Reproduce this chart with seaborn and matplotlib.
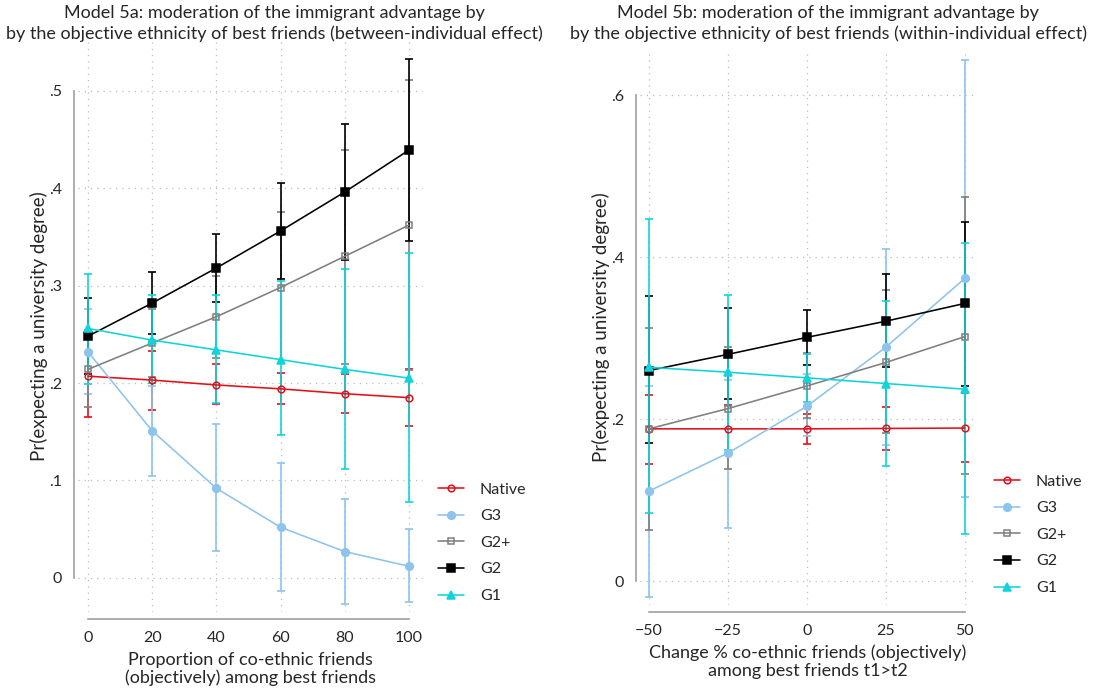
import matplotlib
matplotlib.use("Agg")
import matplotlib.pyplot as plt
import numpy as np
import pandas as pd
import seaborn as sns

# ---- data ----
groups = ["Native", "G3", "G2+", "G2", "G1"]

# Model 5a (between-individual)
x_a = [0, 20, 40, 60, 80, 100]
est_a = {
    "Native": [0.207, 0.203, 0.198, 0.194, 0.189, 0.185],
    "G3":     [0.232, 0.151, 0.092, 0.052, 0.027, 0.012],
    "G2+":    [0.214, 0.241, 0.268, 0.298, 0.330, 0.362],
    "G2":     [0.248, 0.282, 0.318, 0.356, 0.396, 0.439],
    "G1":     [0.256, 0.244, 0.234, 0.224, 0.214, 0.205],
}
lo_a = {
    "Native": [0.165, 0.172, 0.178, 0.178, 0.169, 0.156],
    "G3":     [0.189, 0.105, 0.028, -0.013, -0.027, -0.025],
    "G2+":    [0.175, 0.206, 0.226, 0.221, 0.220, 0.213],
    "G2":     [0.209, 0.250, 0.283, 0.307, 0.326, 0.346],
    "G1":     [0.199, 0.200, 0.179, 0.147, 0.112, 0.078],
}
hi_a = {
    "Native": [0.250, 0.233, 0.219, 0.210, 0.209, 0.214],
    "G3":     [0.276, 0.197, 0.158, 0.118, 0.081, 0.050],
    "G2+":    [0.254, 0.276, 0.310, 0.375, 0.439, 0.511],
    "G2":     [0.287, 0.314, 0.353, 0.405, 0.466, 0.533],
    "G1":     [0.312, 0.290, 0.290, 0.305, 0.317, 0.333],
}

# Model 5b (within-individual)
x_b = [-50, -25, 0, 25, 50]
est_b = {
    "Native": [0.188, 0.188, 0.188, 0.1885, 0.189],
    "G3":     [0.111, 0.158, 0.216, 0.289, 0.374],
    "G2+":    [0.188, 0.213, 0.241, 0.270, 0.302],
    "G2":     [0.260, 0.280, 0.301, 0.321, 0.343],
    "G1":     [0.264, 0.258, 0.251, 0.244, 0.237],
}
lo_b = {
    "Native": [0.144, 0.157, 0.169, 0.162, 0.147],
    "G3":     [-0.020, 0.065, 0.179, 0.168, 0.104],
    "G2+":    [0.063, 0.139, 0.202, 0.183, 0.132],
    "G2":     [0.170, 0.225, 0.267, 0.265, 0.241],
    "G1":     [0.084, 0.162, 0.221, 0.142, 0.058],
}
hi_b = {
    "Native": [0.230, 0.218, 0.206, 0.215, 0.232],
    "G3":     [0.241, 0.248, 0.256, 0.410, 0.644],
    "G2+":    [0.313, 0.289, 0.282, 0.359, 0.474],
    "G2":     [0.352, 0.337, 0.335, 0.379, 0.444],
    "G1":     [0.447, 0.353, 0.281, 0.346, 0.417],
}

colors = {"Native": "#e3101a", "G3": "#8dc4ec", "G2+": "#7f7f7f",
          "G2": "#000000", "G1": "#10d4da"}
markers = {"Native": "o", "G3": "o", "G2+": "s", "G2": "s", "G1": "^"}
msize = {"Native": 4.8, "G3": 5.5, "G2+": 4.5, "G2": 5.8, "G1": 5.5}
mface = {"Native": "none", "G3": None, "G2+": "none", "G2": None, "G1": None}


def tidy(xs, est, lo, hi):
    rows = []
    for g in groups:
        for i, xv in enumerate(xs):
            rows.append((g, xv, est[g][i], lo[g][i], hi[g][i]))
    return pd.DataFrame(rows, columns=["group", "x", "est", "lo", "hi"])


df_a = tidy(x_a, est_a, lo_a, hi_a)
df_b = tidy(x_b, est_b, lo_b, hi_b)

sns.set_style("white")
plt.rcParams["font.family"] = ["Lato", "DejaVu Sans"]

fig = plt.figure(figsize=(10.97, 6.95), dpi=100)
W, H = 1097, 695
ax1 = fig.add_axes([78 / W, 1 - 612 / H, 345 / W, 572 / H])
ax2 = fig.add_axes([640 / W, 1 - 605 / H, 336 / W, 555 / H])


def draw(ax, df, xticks, yticks, ylabs):
    # confidence intervals first, then the lines
    for g in groups:
        d = df[df.group == g]
        ax.errorbar(d.x, d.est, yerr=[d.est - d.lo, d.hi - d.est], fmt="none",
                    ecolor=colors[g], elinewidth=1.2, capsize=2.9, capthick=1.2)
    for g in groups:
        d = df[df.group == g]
        kw = dict(mfc=mface[g]) if mface[g] else {}
        sns.lineplot(data=d, x="x", y="est", ax=ax, color=colors[g],
                     marker=markers[g], markersize=msize[g], linewidth=1.15,
                     markeredgecolor=colors[g], markeredgewidth=1.1,
                     label=g, **kw)
    ax.set_xticks(xticks)
    ax.set_yticks(yticks)
    ax.set_yticklabels(ylabs)
    ax.grid(True, linestyle=(0, (1, 4)), color="#bdbdbd", linewidth=0.9)
    for s in ["top", "right"]:
        ax.spines[s].set_visible(False)
    ax.spines["left"].set_position(("outward", 3))
    ax.spines["bottom"].set_position(("outward", 5))
    ax.spines["left"].set_bounds(yticks[0], yticks[-1])
    ax.spines["bottom"].set_bounds(xticks[0], xticks[-1])
    for s in ["left", "bottom"]:
        ax.spines[s].set_color("#a0a0a0")
        ax.spines[s].set_linewidth(1.2)
    ax.tick_params(axis="both", direction="out", length=7, width=1.2,
                   color="#a0a0a0", labelsize=11.5, pad=1.5)
    ax.set_ylabel("Pr(expecting a university degree)", fontsize=13.5, labelpad=0.5)
    ax.get_legend().remove()


draw(ax1, df_a, x_a, [0, 0.1, 0.2, 0.3, 0.4, 0.5], ["0", ".1", ".2", ".3", ".4", ".5"])
ax1.set_xlim(-3.1, 104.4)
ax1.set_ylim(-0.035, 0.552)
ax1.set_xlabel("Proportion of co-ethnic friends\n(objectively) among best friends",
               fontsize=13, labelpad=5, linespacing=1.15)

draw(ax2, df_b, x_b, [0, 0.2, 0.4, 0.6], ["0", ".2", ".4", ".6"])
ax2.set_xlim(-52.8, 53.5)
ax2.set_ylim(-0.0296, 0.656)
ax2.set_xlabel("Change % co-ethnic friends (objectively)\namong best friends t1>t2",
               fontsize=13, labelpad=5, linespacing=1.15)

h, l = ax1.get_legend_handles_labels()
fig.legend(h, l, loc="upper left", bbox_to_anchor=(424 / W, 1 - 468 / H),
           frameon=False, fontsize=11.5, handlelength=1.6, labelspacing=0.78,
           handletextpad=1.0)
h, l = ax2.get_legend_handles_labels()
fig.legend(h, l, loc="upper left", bbox_to_anchor=(980 / W, 1 - 460 / H),
           frameon=False, fontsize=11.5, handlelength=1.6, labelspacing=0.78,
           handletextpad=1.0)

fig.text(274 / W, 1 - 5 / H,
         "Model 5a: moderation of the immigrant advantage by\n"
         "by the objective ethnicity of best friends (between-individual effect)",
         ha="center", va="top", fontsize=13, linespacing=1.33)
fig.text(828 / W, 1 - 5 / H,
         "Model 5b: moderation of the immigrant advantage by\n"
         "by the objective ethnicity of best friends (within-individual effect)",
         ha="center", va="top", fontsize=13, linespacing=1.33)

fig.savefig("out.png", dpi=100)
